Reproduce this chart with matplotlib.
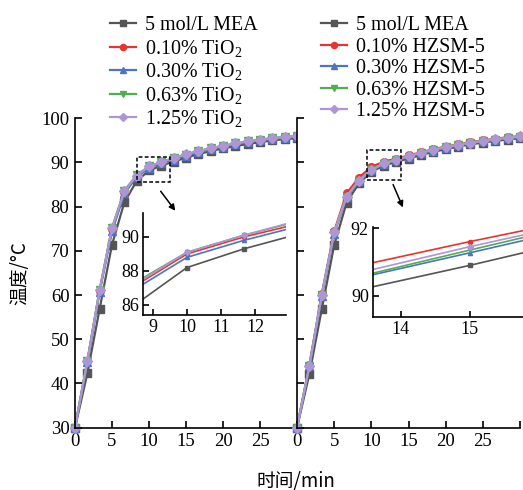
import matplotlib
matplotlib.use("Agg")
import matplotlib.pyplot as plt
from matplotlib.patches import Rectangle, FancyArrowPatch

plt.rcParams['font.family'] = ['Liberation Serif', 'Noto Sans CJK SC', 'DejaVu Sans']
plt.rcParams['mathtext.fontset'] = 'custom'
plt.rcParams['mathtext.rm'] = 'Liberation Serif'
plt.rcParams['mathtext.it'] = 'Liberation Serif:italic'
plt.rcParams['mathtext.default'] = 'regular'

# ---------------- data ----------------
time = [0, 1.67, 3.33, 5, 6.67, 8.33, 10, 11.67, 13.33, 15, 16.67, 18.33,
        20, 21.67, 23.33, 25, 26.67, 28.33, 30]

# left panel (TiO2)
mea_left = [30, 42.3, 56.9, 71.4, 81.0, 85.8, 88.2, 89.3, 90.2, 91.1, 91.9, 92.6,
            93.2, 93.7, 94.2, 94.6, 95.0, 95.3, 95.5]
tio2_010 = [30, 45.0, 61.0, 75.0, 83.4, 86.95, 89.0, 90.0, 90.8, 91.7, 92.5, 93.1,
            93.7, 94.2, 94.7, 95.1, 95.4, 95.7, 95.9]
tio2_030 = [30, 44.8, 60.8, 74.4, 83.0, 86.75, 88.8, 89.8, 90.65, 91.5, 92.3, 93.0,
            93.6, 94.1, 94.6, 95.0, 95.3, 95.6, 95.8]
tio2_063 = [30, 45.1, 61.2, 75.2, 83.6, 87.15, 89.1, 90.1, 90.95, 91.8, 92.6, 93.2,
            93.8, 94.3, 94.8, 95.2, 95.5, 95.8, 96.0]
tio2_125 = [30, 45.1, 61.1, 75.1, 83.5, 87.05, 89.1, 90.1, 91.0, 91.85, 92.6, 93.2,
            93.8, 94.3, 94.8, 95.2, 95.5, 95.8, 96.0]

# right panel (HZSM-5)
mea_right = [30, 42.2, 56.8, 71.3, 80.9, 85.3, 87.9, 89.3, 90.15, 90.9, 91.7, 92.4,
             93.0, 93.6, 94.1, 94.5, 94.9, 95.2, 95.5]
hz_010 = [30, 44.2, 60.2, 74.4, 83.0, 86.6, 89.0, 90.2, 90.86, 91.6, 92.3, 93.0,
          93.6, 94.1, 94.6, 95.0, 95.4, 95.7, 96.0]
hz_030 = [30, 43.9, 59.8, 73.9, 82.2, 85.8, 88.2, 89.7, 90.5, 91.27, 92.05, 92.7,
          93.3, 93.9, 94.4, 94.8, 95.2, 95.5, 95.8]
hz_063 = [30, 44.0, 60.0, 74.0, 82.3, 85.9, 88.3, 89.7, 90.54, 91.35, 92.15, 92.8,
          93.4, 93.9, 94.4, 94.8, 95.2, 95.5, 95.8]
hz_125 = [30, 44.0, 60.0, 74.2, 82.3, 85.9, 88.3, 89.8, 90.65, 91.45, 92.2, 92.9,
          93.5, 94.0, 94.5, 94.9, 95.3, 95.6, 95.9]

labels_left = ['5 mol/L MEA', '0.10% TiO$_2$', '0.30% TiO$_2$', '0.63% TiO$_2$', '1.25% TiO$_2$']
labels_right = ['5 mol/L MEA', '0.10% HZSM-5', '0.30% HZSM-5', '0.63% HZSM-5', '1.25% HZSM-5']
series_left = [mea_left, tio2_010, tio2_030, tio2_063, tio2_125]
series_right = [mea_right, hz_010, hz_030, hz_063, hz_125]

colors = ['#555555', '#e8342f', '#4a74c4', '#4fae4f', '#ae96d6']
markers = ['s', 'o', '^', 'v', 'D']
msizes = [5.5, 5.5, 6, 6, 5]

x_ticks = [0, 5, 10, 15, 20, 25, 30]
x_ticklabels = ['0', '5', '10', '15', '20', '25', '']
y_ticks = [30, 40, 50, 60, 70, 80, 90, 100]

# ---------------- figure ----------------
W, H = 523, 490
fig = plt.figure(figsize=(W / 100, H / 100), dpi=100)


def px_rect(x0, y0, x1, y1):
    return [x0 / W, 1 - y1 / H, (x1 - x0) / W, (y1 - y0) / H]


FS = 13.5
FS_LEG = 14.4
ax1 = fig.add_axes(px_rect(75, 118.3, 297, 427.7))
ax2 = fig.add_axes(px_rect(297, 118.3, 520, 427.7))

for ax, series, labels in [(ax1, series_left, labels_left), (ax2, series_right, labels_right)]:
    for s, c, m, ms, lab in zip(series, colors, markers, msizes, labels):
        ax.plot(time, s, color=c, marker=m, markersize=ms, linewidth=1.6,
                label=lab, clip_on=False)
    ax.set_xlim(0, 30)
    ax.set_ylim(30, 100)
    ax.set_xticks(x_ticks)
    ax.set_xticklabels(x_ticklabels)
    ax.set_yticks(y_ticks)
    for sp in ['top', 'right']:
        ax.spines[sp].set_visible(False)
    for sp in ['left', 'bottom']:
        ax.spines[sp].set_linewidth(1.2)
    ax.tick_params(direction='in', length=5, width=1.2, labelsize=FS, pad=4)

ax2.tick_params(axis='y', labelleft=False)

ax1.set_ylabel('温度/°C', fontsize=FS, family=['Noto Sans CJK SC', 'DejaVu Sans'], labelpad=8)
fig.text(296 / W, 1 - 481 / H, '时间/min', ha='center', va='center', fontsize=FS,
         family=['Noto Sans CJK SC', 'Liberation Serif'])

leg_kw = dict(frameon=False, fontsize=FS_LEG, handlelength=1.3, handletextpad=0.45,
              labelspacing=0.13, borderaxespad=0, borderpad=0, markerscale=0.8)
ax1.legend(loc='upper left', bbox_to_anchor=(110 / W, 1 - 16 / H),
           bbox_transform=fig.transFigure, **leg_kw)
ax2.legend(loc='upper left', bbox_to_anchor=(321 / W, 1 - 16 / H),
           bbox_transform=fig.transFigure, **leg_kw)

# zoom boxes
box_left = (8.33, 85.65, 12.9, 91.3)
box_right = (9.42, 86.0, 13.98, 92.8)
for ax, b in [(ax1, box_left), (ax2, box_right)]:
    ax.add_patch(Rectangle((b[0], b[1]), b[2] - b[0], b[3] - b[1], fill=False,
                           linestyle=(0, (2.5, 1.5)), linewidth=1.1, edgecolor='black', zorder=10))

# arrows (figure pixel coordinates)
for (x0, y0, x1, y1) in [(159, 189, 177, 213), (392, 182, 404, 210)]:
    fig.patches.append(FancyArrowPatch(
        (x0 / W, 1 - y0 / H), (x1 / W, 1 - y1 / H), transform=fig.transFigure,
        arrowstyle='-|>', mutation_scale=9, color='black', linewidth=1.1))

# insets
ins1 = fig.add_axes(px_rect(143, 213, 286, 315))
ins2 = fig.add_axes(px_rect(373, 227, 523, 317))
for ins, series, xl, yl, xt, yt in [
        (ins1, series_left, (8.71, 12.91), (85.41, 91.41), [9, 10, 11, 12], [86, 88, 90]),
        (ins2, series_right, (13.6, 15.77), (89.38, 92.03), [14, 15], [90, 92])]:
    for s, c, m in zip(series, colors, markers):
        ins.plot(time, s, color=c, marker=m, markersize=3, linewidth=1.2)
    ins.set_xlim(*xl)
    ins.set_ylim(*yl)
    ins.set_xticks(xt)
    ins.set_yticks(yt)
    for sp in ['top', 'right']:
        ins.spines[sp].set_visible(False)
    for sp in ['left', 'bottom']:
        ins.spines[sp].set_linewidth(1.2)
    ins.tick_params(direction='in', length=4, width=1.2, labelsize=13, pad=3)
    ins.patch.set_alpha(0)

fig.savefig('out.png', dpi=100)
